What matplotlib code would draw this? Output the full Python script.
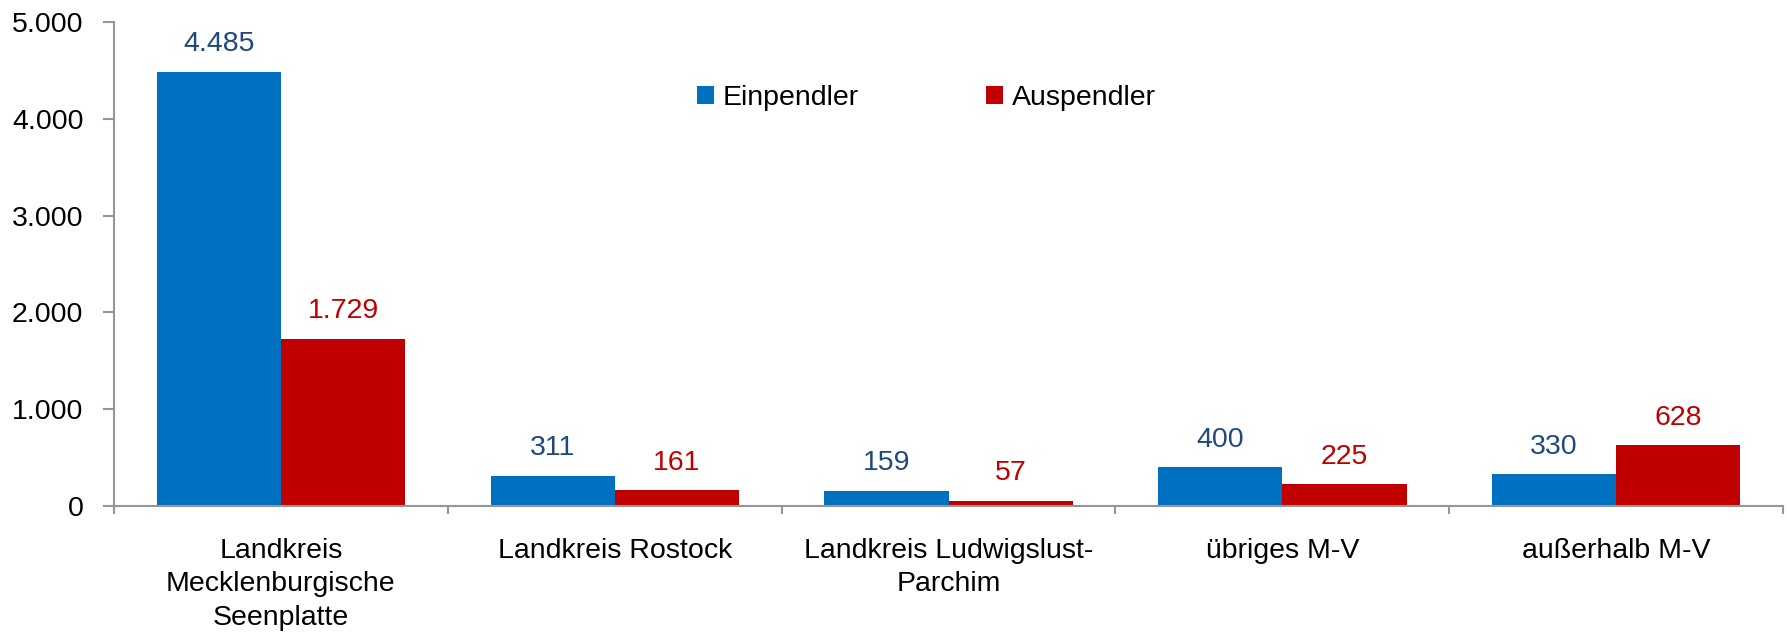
import numpy as np
import matplotlib.pyplot as plt

# Pendler nach Region
kategorien = ["Landkreis\nMecklenburgische\nSeenplatte", "Landkreis Rostock",
              "Landkreis Ludwigslust-\nParchim", "übriges M-V", "außerhalb M-V"]
einpendler = [4485, 311, 159, 400, 330]
auspendler = [1729, 161, 57, 225, 628]

blau = "#0070C0"
rot = "#C00000"
grau = "#969696"
fs = 20.5

def fmt(v):
    return f"{v:,}".replace(",", ".")

plt.rcParams['font.family'] = ['Liberation Sans', 'DejaVu Sans']
fig = plt.figure(figsize=(17.87, 6.33), dpi=100)
ax = fig.add_axes([0.0638, 0.2006, 0.934, 0.7644])

x = np.arange(len(kategorien))
w = 0.372
b1 = ax.bar(x - w/2, einpendler, w, color=blau, label="Einpendler")
b2 = ax.bar(x + w/2, auspendler, w, color=rot, label="Auspendler")

# Datenbeschriftungen
for rect, v in zip(b1, einpendler):
    ax.annotate(fmt(v), (rect.get_x() + rect.get_width()/2, v), xytext=(0, 10.5),
                textcoords="offset points", ha="center", va="bottom", fontsize=fs, color="#1F497D")
for rect, v in zip(b2, auspendler):
    ax.annotate(fmt(v), (rect.get_x() + rect.get_width()/2, v), xytext=(0, 10.5),
                textcoords="offset points", ha="center", va="bottom", fontsize=fs, color=rot)

ax.set_xlim(-0.5, len(kategorien) - 0.5)
ax.set_ylim(0, 5000)
ax.set_yticks(np.arange(0, 5001, 1000))
ax.set_yticklabels([fmt(v) for v in range(0, 5001, 1000)], fontsize=fs)

# Ticks an den Kategoriegrenzen, Beschriftung mittig
ax.set_xticks(np.arange(-0.5, len(kategorien)), minor=False)
ax.set_xticklabels([])
ax.set_xticks(x, minor=True)
ax.set_xticklabels(kategorien, minor=True, fontsize=fs, linespacing=1.37, va="top")
ax.tick_params(axis="x", which="minor", length=0, pad=23)
ax.tick_params(axis="x", which="major", length=6, color=grau, width=1.5)
ax.tick_params(axis="y", length=8, color=grau, width=1.5, pad=14)

for s in ["top", "right"]:
    ax.spines[s].set_visible(False)
for s in ["left", "bottom"]:
    ax.spines[s].set_color(grau)
    ax.spines[s].set_linewidth(1.5)

ax.legend(loc="center left", bbox_to_anchor=(0.349, 0.843), ncol=2, frameon=False,
          fontsize=fs, handlelength=0.6, handleheight=0.6, handletextpad=0.3,
          columnspacing=4.5, borderpad=0, borderaxespad=0)

fig.savefig("out.png", dpi=100)
